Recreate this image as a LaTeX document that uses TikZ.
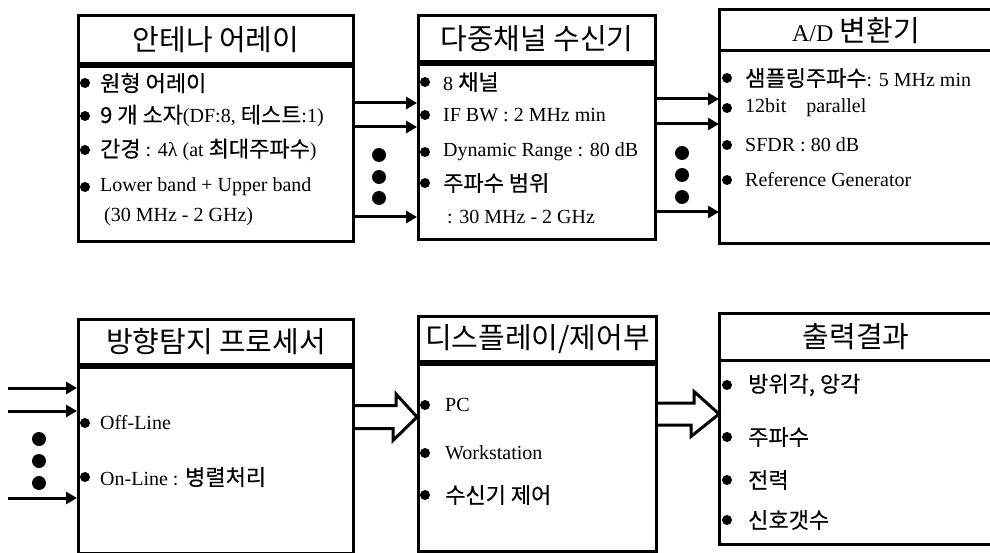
\documentclass[tikz,border=0pt]{standalone}
\usepackage{fontspec}
\setmainfont{Liberation Serif}
\newfontfamily\kr[Scale=1.1,FakeBold=0.35]{Noto Sans CJK KR}
\newfontfamily\krh{Noto Sans CJK KR}
\usetikzlibrary{arrows.meta,calc}

\begin{document}
\begin{tikzpicture}[x=1pt,y=-1pt,
  head/.style={draw,line width=3pt,anchor=north west,inner sep=0pt,font=\fontsize{29}{31}\selectfont\krh},
  body/.style={draw,line width=3pt,anchor=north west,inner sep=0pt},
  item/.style={anchor=west,inner sep=0pt,font=\fontsize{20}{22}\selectfont},
  sig/.style={line width=3pt,-{Triangle[length=11pt,width=12pt]}},
  bigdot/.style={circle,fill=black,inner sep=0pt,minimum size=14pt},
  bullet/.style={circle,fill=black,inner sep=0pt,minimum size=10pt},
  fat/.style={draw,line width=3pt,fill=white,line join=miter}]
\useasboundingbox (0,0) rectangle (990,553);
% upper row of blocks:
\node[head,minimum width=275pt,minimum height=48pt] (ant) at (77,14) {안테나 어레이};
\node[body,minimum width=275pt,minimum height=175pt] (antb) at (ant.south west) {};
\node[head,minimum width=237pt,minimum height=46pt] (rcv) at (417,14) {다중채널 수신기};
\node[body,minimum width=237pt,minimum height=175pt] (rcvb) at (rcv.south west) {};
\node[head,draw=none,minimum width=271pt,minimum height=38pt] (adc) at (719,10) {{\rmfamily\fontsize{24}{26}\selectfont A/D} 변환기};
\node[body,draw=none,minimum width=271pt,minimum height=190pt] (adcb) at (adc.south west) {};
\draw[line width=3pt] (adc.north east) -- (adc.north west) -- (adcb.south west) -- (adcb.south east);
\draw[line width=3pt] (adc.south west) -- (adc.south east);
% lower row of blocks:
\node[head,minimum width=275pt,minimum height=45pt] (dfp) at (77,318) {방향탐지 프로세서};
\node[body,minimum width=275pt,minimum height=186pt] (dfpb) at (dfp.south west) {};
\node[head,minimum width=238pt,minimum height=45pt] (dsp) at (417,315) {디스플레이/제어부};
\node[body,minimum width=238pt,minimum height=187pt] (dspb) at (dsp.south west) {};
\node[head,draw=none,minimum width=271pt,minimum height=44pt] (out) at (719,313) {출력결과};
\node[body,draw=none,minimum width=271pt,minimum height=181pt] (outb) at (out.south west) {};
\draw[line width=3pt] (out.north east) -- (out.north west) -- (outb.south west) -- (outb.south east);
\draw[line width=3pt] (out.south west) -- (out.south east);
% items:
\foreach \y/\t in {83/{\kr 원형 어레이},116/{{\kr 9 개 소자}(DF:8, {\kr 테스트}:1)},
    150/{{\kr 간경} : 4λ (at {\kr 최대주파수})},187/{Lower band + Upper band}}{
  \node[bullet] at (85,\y) {};
  \node[item] at (100,\y) {\t};
}
\node[item] at (104,217) {(30 MHz - 2 GHz)};
\foreach \y/\t in {82/{8 {\kr 채널}},115/{IF BW : 2 MHz min},152/{Dynamic Range : 80 dB},183/{\kr 주파수 범위}}{
  \node[bullet] at (425,\y) {};
  \node[item] at (443,\y) {\t};
}
\node[item] at (447,217) {: 30 MHz - 2 GHz};
\foreach \y/\t in {78/{{\kr 샘플링주파수}: 5 MHz min},108/{12bit\quad parallel},145/{SFDR : 80 dB},180/{Reference Generator}}{
  \node[bullet] at (727,\y) {};
  \node[item] at (745,\y) {\t};
}
\foreach \y/\t in {423/{Off-Line},477/{On-Line : {\kr 병렬처리}}}{
  \node[bullet] at (85,\y) {};
  \node[item] at (100,\y) {\t};
}
\foreach \y/\t in {405/{PC},453/{Workstation},495/{\kr 수신기 제어}}{
  \node[bullet] at (425,\y) {};
  \node[item] at (445,\y) {\t};
}
\foreach \y/\t in {385/{\kr 방위각, 앙각},437/{\kr 주파수},480/{\kr 전력},520/{\kr 신호갯수}}{
  \node[bullet] at (727,\y) {};
  \node[item] at (748,\y) {\t};
}
% signal lines:
\foreach \y in {103,127,217}
  \draw[sig] (antb.east |- 0,\y) -- (rcvb.west |- 0,\y);
\foreach \y in {99,124,212}
  \draw[sig] (rcvb.east |- 0,\y) -- (adcb.west |- 0,\y);
\coordinate (src) at (8,0);
\foreach \y in {388,411,498}
  \draw[sig] (src |- 0,\y) -- (dfpb.west |- 0,\y);
\foreach \y in {155,177,198} \node[bigdot] at (379,\y) {};
\foreach \y in {153,175,197} \node[bigdot] at (682,\y) {};
\foreach \y in {439,461,483} \node[bigdot] at (39,\y) {};
% data paths:
\draw[fat] (dfpb.east |- 0,405.5) -- ++(41,0) -- ++(0,-11.5) -- (dspb.west |- 0,417)
  -- ++(-24,23.5) -- ++(0,-12) -- (dfpb.east |- 0,428.5);
\draw[fat] (dspb.east |- 0,403) -- ++(36,0) -- ++(0,-11.5) -- (outb.west |- 0,414)
  -- ++(-28,22.5) -- ++(0,-11.5) -- (dspb.east |- 0,425);
\end{tikzpicture}
\end{document}
